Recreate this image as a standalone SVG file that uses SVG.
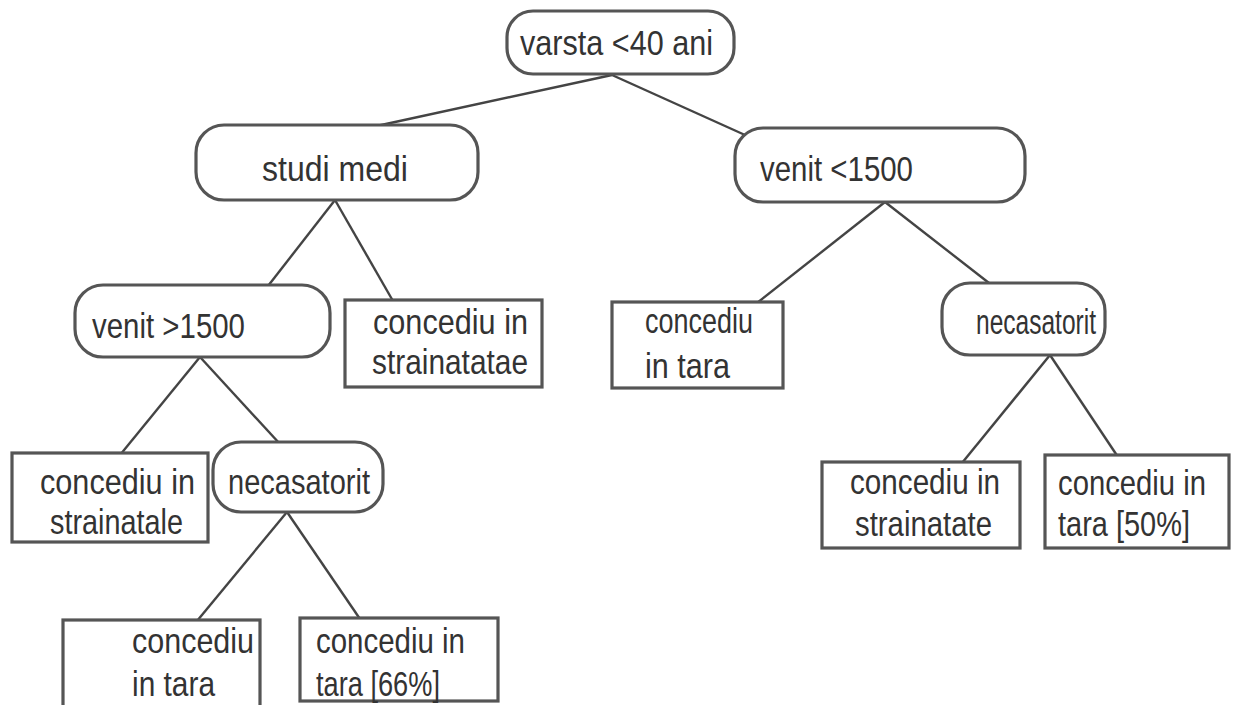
<svg xmlns="http://www.w3.org/2000/svg" width="1233" height="705" viewBox="0 0 1233 705">
  <style>
    .dec { fill: #ffffff; stroke: #555555; stroke-width: 3.2; }
    .leaf { fill: #ffffff; stroke: #555555; stroke-width: 3.2; }
    .edge { stroke: #444444; stroke-width: 2.4; fill: none; }
    text { font-family: "Liberation Sans", Arial, sans-serif; font-size: 35px; fill: #333333; }
  </style>
  <rect width="1233" height="705" fill="#ffffff"/>

  <!-- tree edges -->
  <g id="connectors">
    <line class="edge" x1="612" y1="75" x2="372" y2="127"/>
    <line class="edge" x1="612" y1="75" x2="745" y2="135"/>
    <line class="edge" x1="335" y1="200" x2="268" y2="286"/>
    <line class="edge" x1="335" y1="200" x2="393" y2="301"/>
    <line class="edge" x1="885" y1="202" x2="757" y2="303"/>
    <line class="edge" x1="885" y1="202" x2="998" y2="290"/>
    <line class="edge" x1="200" y1="357" x2="120" y2="455"/>
    <line class="edge" x1="200" y1="357" x2="280" y2="444"/>
    <line class="edge" x1="1050" y1="355" x2="962" y2="463"/>
    <line class="edge" x1="1050" y1="355" x2="1118" y2="457"/>
    <line class="edge" x1="287" y1="512" x2="197" y2="621"/>
    <line class="edge" x1="287" y1="512" x2="360" y2="619"/>
  </g>

  <!-- decision nodes -->
  <g id="n-varsta">
    <rect class="dec" x="507" y="11" width="227" height="63" rx="26"/>
    <text x="520" y="55" textLength="193" lengthAdjust="spacingAndGlyphs">varsta &lt;40 ani</text>
  </g>
  <g id="n-studii">
    <rect class="dec" x="196" y="125" width="282" height="75" rx="28"/>
    <text x="262" y="181" textLength="146" lengthAdjust="spacingAndGlyphs">studi medi</text>
  </g>
  <g id="n-venit-mic">
    <rect class="dec" x="735" y="128" width="290" height="74" rx="28"/>
    <text x="760" y="181" textLength="153" lengthAdjust="spacingAndGlyphs">venit &lt;1500</text>
  </g>
  <g id="n-venit-mare">
    <rect class="dec" x="75" y="285" width="255" height="72" rx="28"/>
    <text x="92" y="338" textLength="153" lengthAdjust="spacingAndGlyphs">venit &gt;1500</text>
  </g>
  <g id="n-necasatorit-dr">
    <rect class="dec" x="942" y="283" width="163" height="72" rx="28"/>
    <text x="976" y="334" textLength="120" lengthAdjust="spacingAndGlyphs">necasatorit</text>
  </g>
  <g id="n-necasatorit-st">
    <rect class="dec" x="213" y="442" width="170" height="70" rx="28"/>
    <text x="228" y="494" textLength="142" lengthAdjust="spacingAndGlyphs">necasatorit</text>
  </g>

  <!-- leaf nodes -->
  <g id="l-strainatatae">
    <rect class="leaf" x="345" y="300" width="197" height="87"/>
    <text x="373" y="334" textLength="155" lengthAdjust="spacingAndGlyphs">concediu in</text>
    <text x="372" y="374" textLength="156" lengthAdjust="spacingAndGlyphs">strainatatae</text>
  </g>
  <g id="l-tara-1">
    <rect class="leaf" x="612" y="302" width="171" height="86"/>
    <text x="645" y="333" textLength="108" lengthAdjust="spacingAndGlyphs">concediu</text>
    <text x="645" y="378" textLength="85" lengthAdjust="spacingAndGlyphs">in tara</text>
  </g>
  <g id="l-strainatale">
    <rect class="leaf" x="12" y="453" width="196" height="89"/>
    <text x="40" y="494" textLength="155" lengthAdjust="spacingAndGlyphs">concediu in</text>
    <text x="50" y="534" textLength="133" lengthAdjust="spacingAndGlyphs">strainatale</text>
  </g>
  <g id="l-strainatate">
    <rect class="leaf" x="822" y="462" width="198" height="86"/>
    <text x="850" y="494" textLength="150" lengthAdjust="spacingAndGlyphs">concediu in</text>
    <text x="855" y="536" textLength="137" lengthAdjust="spacingAndGlyphs">strainatate</text>
  </g>
  <g id="l-tara-50">
    <rect class="leaf" x="1045" y="455" width="184" height="93"/>
    <text x="1058" y="495" textLength="148" lengthAdjust="spacingAndGlyphs">concediu in</text>
    <text x="1058" y="536" textLength="132" lengthAdjust="spacingAndGlyphs">tara [50%]</text>
  </g>
  <g id="l-tara-2">
    <rect class="leaf" x="63" y="620" width="197" height="92"/>
    <text x="132" y="653" textLength="122" lengthAdjust="spacingAndGlyphs">concediu</text>
    <text x="132" y="696" textLength="83" lengthAdjust="spacingAndGlyphs">in tara</text>
  </g>
  <g id="l-tara-66">
    <rect class="leaf" x="300" y="618" width="198" height="83"/>
    <text x="316" y="653" textLength="149" lengthAdjust="spacingAndGlyphs">concediu in</text>
    <text x="316" y="696" textLength="124" lengthAdjust="spacingAndGlyphs">tara [66%]</text>
  </g>
</svg>
